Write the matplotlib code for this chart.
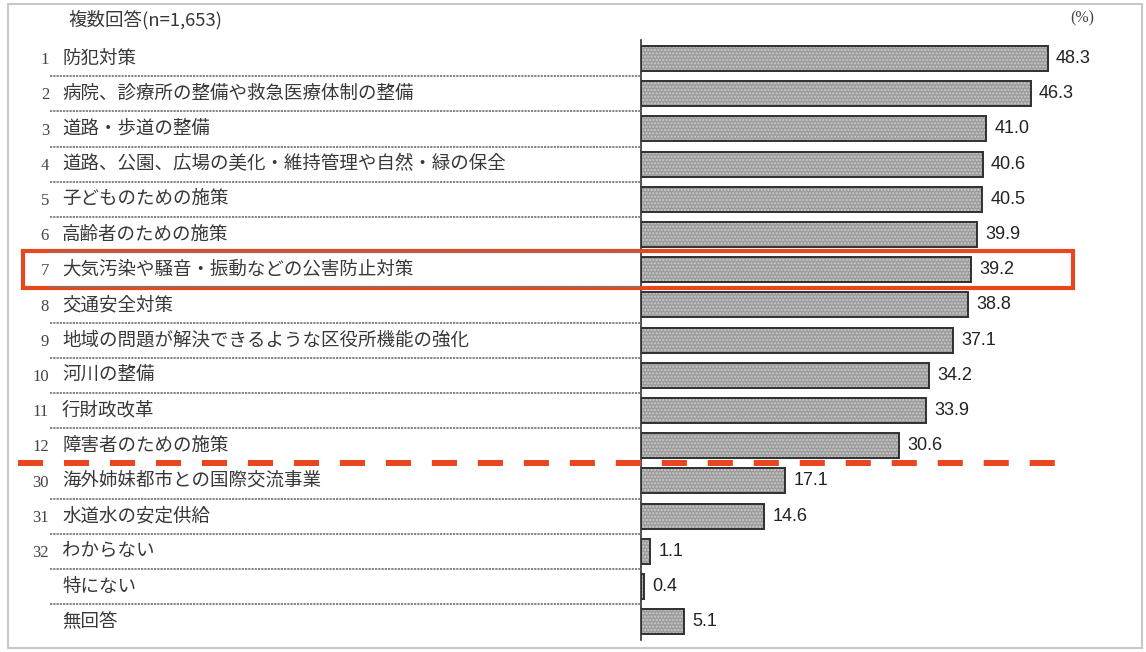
import matplotlib
matplotlib.use("Agg")
import matplotlib.pyplot as plt
import matplotlib.transforms as mtransforms
from matplotlib.patches import Rectangle

plt.rcParams['font.family'] = ['Noto Sans CJK JP', 'DejaVu Sans']

# data
Numbers = ["1", "2", "3", "4", "5", "6", "7", "8", "9", "10", "11", "12",
           "30", "31", "32", "", ""]
Labels = ["防犯対策",
          "病院、診療所の整備や救急医療体制の整備",
          "道路・歩道の整備",
          "道路、公園、広場の美化・維持管理や自然・緑の保全",
          "子どものための施策",
          "高齢者のための施策",
          "大気汚染や騒音・振動などの公害防止対策",
          "交通安全対策",
          "地域の問題が解決できるような区役所機能の強化",
          "河川の整備",
          "行財政改革",
          "障害者のための施策",
          "海外姉妹都市との国際交流事業",
          "水道水の安定供給",
          "わからない",
          "特にない",
          "無回答"]
Values = [48.3, 46.3, 41.0, 40.6, 40.5, 39.9, 39.2, 38.8, 37.1, 34.2, 33.9, 30.6,
          17.1, 14.6, 1.1, 0.4, 5.1]
Highlight = 6       # row with the red box
CutAfter = 11       # red dashed line after this row

W, H = 1146, 652
fig = plt.figure(figsize=(W / 100, H / 100), dpi=100)

ax_left = 641 / W
ax_bot = (H - 640) / H
ax_h = 600 / H
ylim = (16.52, -0.526)

ax = fig.add_axes([ax_left, ax_bot, 1 - ax_left, ax_h])
lab = fig.add_axes([0, ax_bot, ax_left, ax_h], sharey=ax)
lab.set_xlim(0, 641)
lab.axis('off')

y = list(range(len(Values)))

# bars: dotted grey fill, then dark outline
ax.barh(y, Values, height=0.71, color='#9c9c9c', edgecolor='#cccccc', hatch='.....', linewidth=0)
ax.barh(y, Values, height=0.71, fill=False, edgecolor='#303030', linewidth=1.4)
for i, v in enumerate(Values):
    ax.annotate(f"{v:.1f}", (v, i), xytext=(6, 0), textcoords='offset points',
                va='center', ha='left', fontsize=13, color='#222222',
                family='Liberation Sans')

ax.set_xlim(0, 60)
ax.set_ylim(*ylim)
for s in ['top', 'right', 'bottom']:
    ax.spines[s].set_visible(False)
ax.spines['left'].set_color('#303030')
ax.spines['left'].set_linewidth(1.2)
ax.set_xticks([])
ax.set_yticks([])
ax.patch.set_alpha(0)

# row labels and separators
for i, (n, t) in enumerate(zip(Numbers, Labels)):
    if n:
        lab.text(49, i + 0.05, n, ha='right', va='center', fontsize=12,
                 family='Liberation Serif', color='#444444')
    lab.text(62, i, t, ha='left', va='center', fontsize=13.3, color='#383838')
    if i < len(Labels) - 1 and i != CutAfter:
        lab.plot([50, 641], [i + 0.5, i + 0.5], color='#7a7a7a', linewidth=1.3,
                 linestyle=(0, (1.2, 0.6)))

# highlight box and cut line span the whole figure width
tr = mtransforms.blended_transform_factory(fig.transFigure, ax.transData)
red = '#e8461e'
box = Rectangle((23 / W, Highlight - 0.52), (1073 - 23) / W, 1.05, transform=tr,
                fill=False, edgecolor=red, linewidth=3, clip_on=False, zorder=5)
ax.add_patch(box)
ax.plot([18 / W, 1055 / W], [CutAfter + 0.5, CutAfter + 0.5], transform=tr,
        color=red, linewidth=4.3, linestyle=(0, (4.2, 3.5)), clip_on=False, zorder=5,
        solid_capstyle='butt', dash_capstyle='butt')

fig.text(68 / W, 1 - 20 / H, "複数回答(n=1,653)", ha='left', va='center',
         fontsize=13.3, color='#383838')
fig.text(1082 / W, 1 - 18 / H, "(%)", ha='center', va='center', fontsize=11.5,
         color='#444444', family='Liberation Serif')

# outer grey frame
fig.add_artist(Rectangle((8 / W, 1 - 648 / H), (1142 - 8) / W, (648 - 4) / H,
                         transform=fig.transFigure, fill=False,
                         edgecolor='#c8c8c8', linewidth=1.5))

fig.savefig("out.png", dpi=100)
